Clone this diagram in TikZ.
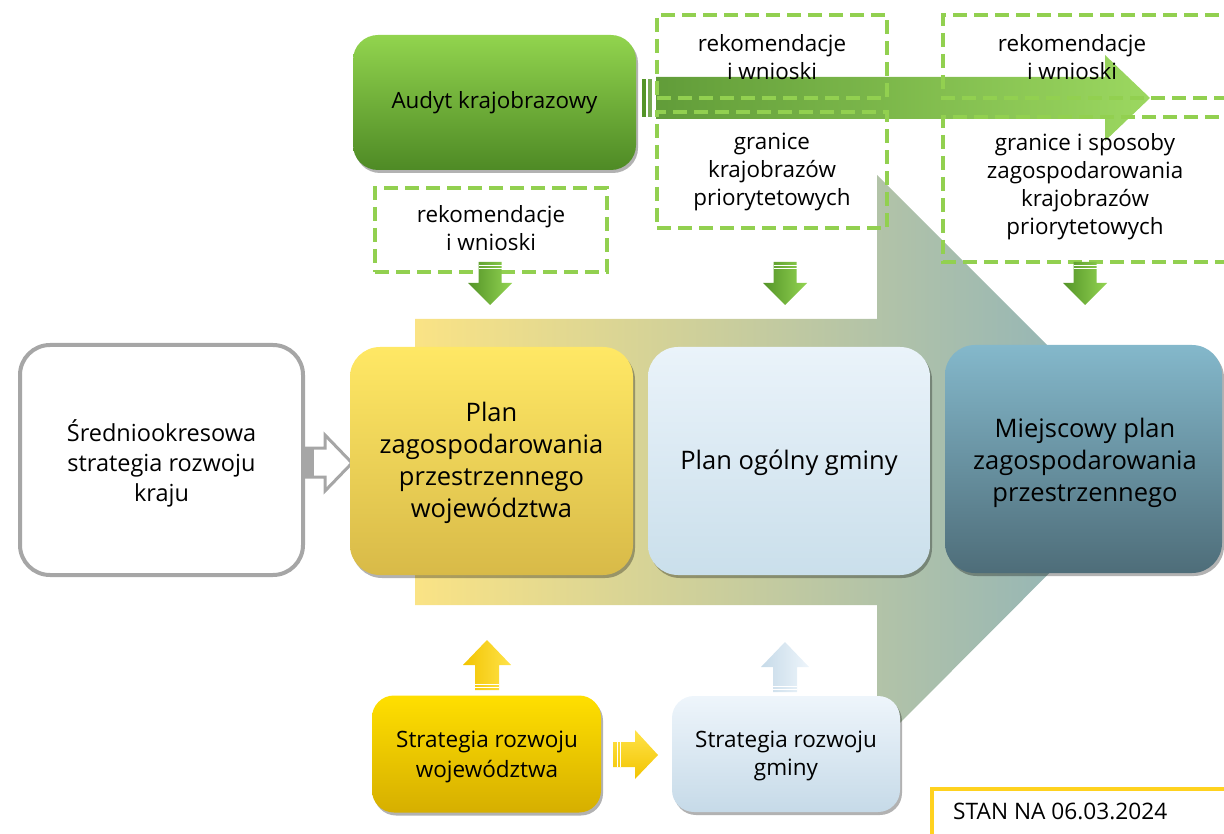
\documentclass[tikz,border=0pt]{standalone}
\usepackage{fontspec}
\setmainfont{Open Sans}
\usetikzlibrary{shadows}
\definecolor{dgreen}{HTML}{92D050}
\definecolor{agTop}{HTML}{92D44E}
\definecolor{agBot}{HTML}{4E8A25}
\definecolor{arrL}{HTML}{FAE385}
\definecolor{arrM}{HTML}{DCD69E}
\definecolor{arrR}{HTML}{86AFBD}
\definecolor{pwTop}{HTML}{FFE865}
\definecolor{pwBot}{HTML}{D8BA48}
\definecolor{poTop}{HTML}{EAF3FA}
\definecolor{poBot}{HTML}{CADFEB}
\definecolor{mpTop}{HTML}{84B8CB}
\definecolor{mpBot}{HTML}{4E6D79}
\definecolor{swTop}{HTML}{FFDF00}
\definecolor{swBot}{HTML}{D6AF00}
\definecolor{grayb}{HTML}{A6A6A6}
\definecolor{stan}{HTML}{FFD21F}
\definecolor{gD}{HTML}{549428}
\definecolor{gL}{HTML}{93D452}
\definecolor{yD}{HTML}{F2C400}
\definecolor{yL}{HTML}{FFE34A}
\definecolor{bD}{HTML}{C6DAE8}
\definecolor{bL}{HTML}{EEF5FB}
\begin{document}
\begin{tikzpicture}[x=1pt,y=-1pt,
  txt/.style={align=center,text=black,inner sep=0pt,font=\fontsize{22.4}{28}\selectfont},
  bigtxt/.style={align=center,text=black,inner sep=0pt,font=\fontsize{25.5}{32}\selectfont},
  shad/.style={drop shadow={shadow xshift=2pt,shadow yshift=-3pt,opacity=0.3,fill=black}},
  dbox/.style={draw=dgreen,line width=4pt,dash pattern=on 14pt off 7pt,inner sep=0pt},
  downarr/.pic={
    \shade[left color=gD,right color=gL] (-11.5,0) -- (11.5,0) -- (11.5,21) -- (22,21) -- (0,43) -- (-22,21) -- (-11.5,21) -- cycle;
    \draw[white,line width=0.8pt] (-11.5,3) -- (11.5,3) (-11.5,6) -- (11.5,6);
  },
  uparr/.pic={
    \shade[left color=#1] (-12,50) -- (12,50) -- (12,25) -- (24,25) -- (0,0) -- (-24,25) -- (-12,25) -- cycle;
    \draw[white,line width=0.8pt] (-12,44) -- (12,44) (-12,47) -- (12,47);
  }
]
\useasboundingbox (0,0) rectangle (1224,834);

% big background arrow
\shade[left color=arrL,middle color=arrM,right color=arrR]
  (415,319) -- (877,319) -- (877,175) -- (1162,460) -- (877,746) -- (877,605) -- (415,605) -- cycle;

% green horizontal arrow
\shade[left color=gD,right color=gL,opacity=0.92]
  (656,77) -- (1105,77) -- (1105,55) -- (1150,98) -- (1105,141) -- (1105,119) -- (656,119) -- cycle;
\fill[gD] (642,79) rectangle (646,117);
\fill[gD!80] (648,79) rectangle (652,117);

% Audyt
\node[shad,top color=agTop,bottom color=agBot,rounded corners=25pt,minimum width=283pt,minimum height=135pt] (audyt) at (494.5,102.5) {};
\node[txt] (audytT) at (494.5,103) {Audyt krajobrazowy};

% dashed boxes
\node[dbox,minimum width=230pt,minimum height=83pt] (rk1) at (772,56.5) {};
\node[txt] (rk1T) at (772,57) {rekomendacje\\i wnioski};
\node[dbox,minimum width=230pt,minimum height=116pt] (gr1) at (772,170) {};
\node[txt] (gr1T) at (772,172) {granice\\krajobrazów\\priorytetowych};
\draw[dbox] (1240,15) -- (943,15) -- (943,98) -- (1240,98);
\node[txt] (rk2T) at (1072,57) {rekomendacje\\i wnioski};
\draw[dbox] (1240,117) -- (943,117) -- (943,262) -- (1240,262);
\node[txt] (gr2T) at (1085,187) {granice i sposoby\\zagospodarowania\\krajobrazów\\priorytetowych};
\node[dbox,minimum width=232pt,minimum height=84pt] (rk0) at (491,230) {};
\node[txt] (rk0T) at (491,228) {rekomendacje\\i wnioski};

% down arrows
\pic at (490,262) {downarr};
\pic at (785,262) {downarr};
\pic at (1085,262) {downarr};

% left box
\node[draw=grayb,line width=4pt,fill=white,rounded corners=30pt,minimum width=283pt,minimum height=230pt] (kraj) at (161.5,460) {};
\node[txt,font=\fontsize{23.5}{30}\selectfont] (krajT) at (161.5,463) {Średniookresowa\\strategia rozwoju\\kraju};
% outline arrow
\draw[grayb,line width=3pt,fill=white,line join=miter] (305,448) -- (325,448) -- (325,435) -- (352,463) -- (325,491) -- (325,477) -- (305,477);
\fill[grayb] (305,448) rectangle (314,477);

% plan boxes
\node[shad,top color=pwTop,bottom color=pwBot,rounded corners=30pt,minimum width=283pt,minimum height=228pt] (pw) at (491.5,461) {};
\node[bigtxt] (pwT) at (491.5,463) {Plan\\zagospodarowania\\przestrzennego\\województwa};
\node[shad,top color=poTop,bottom color=poBot,rounded corners=30pt,minimum width=282pt,minimum height=228pt] (po) at (789,461) {};
\node[bigtxt] (poT) at (789,463) {Plan ogólny gminy};
\node[shad,top color=mpTop,bottom color=mpBot,rounded corners=30pt,minimum width=277pt,minimum height=228pt] (mp) at (1083.5,459) {};
\node[bigtxt] (mpT) at (1085,463) {Miejscowy plan\\zagospodarowania\\przestrzennego};

% up arrows
\pic at (487,640) {uparr={yD,right color=yL}};
\pic at (785,642) {uparr={bD,right color=bL}};

% strategia boxes
\node[shad,top color=swTop,bottom color=swBot,rounded corners=22pt,minimum width=229pt,minimum height=117pt] (sw) at (486.5,754) {};
\node[txt,font=\fontsize{22.5}{30}\selectfont] (swT) at (487,757) {Strategia rozwoju\\województwa};
\node[shad,top color=bL,bottom color=bD,rounded corners=22pt,minimum width=228pt,minimum height=116pt] (sg) at (786,754) {};
\node[txt,font=\fontsize{22.5}{28}\selectfont] (sgT) at (786,756) {Strategia rozwoju\\gminy};

% right yellow arrow
\shade[top color=yL,bottom color=yD] (613,742) -- (635,742) -- (635,730) -- (658,755) -- (635,779) -- (635,767) -- (613,767) -- cycle;
\draw[white,line width=0.8pt] (617,742) -- (617,767) (620,742) -- (620,767);

% stan
\draw[stan,line width=4pt] (1240,789) -- (932,789) -- (932,840);
\node[txt,anchor=west,font=\fontsize{22.7}{28}\selectfont] (stanT) at (953,811) {STAN NA 06.03.2024};
\end{tikzpicture}
\end{document}
